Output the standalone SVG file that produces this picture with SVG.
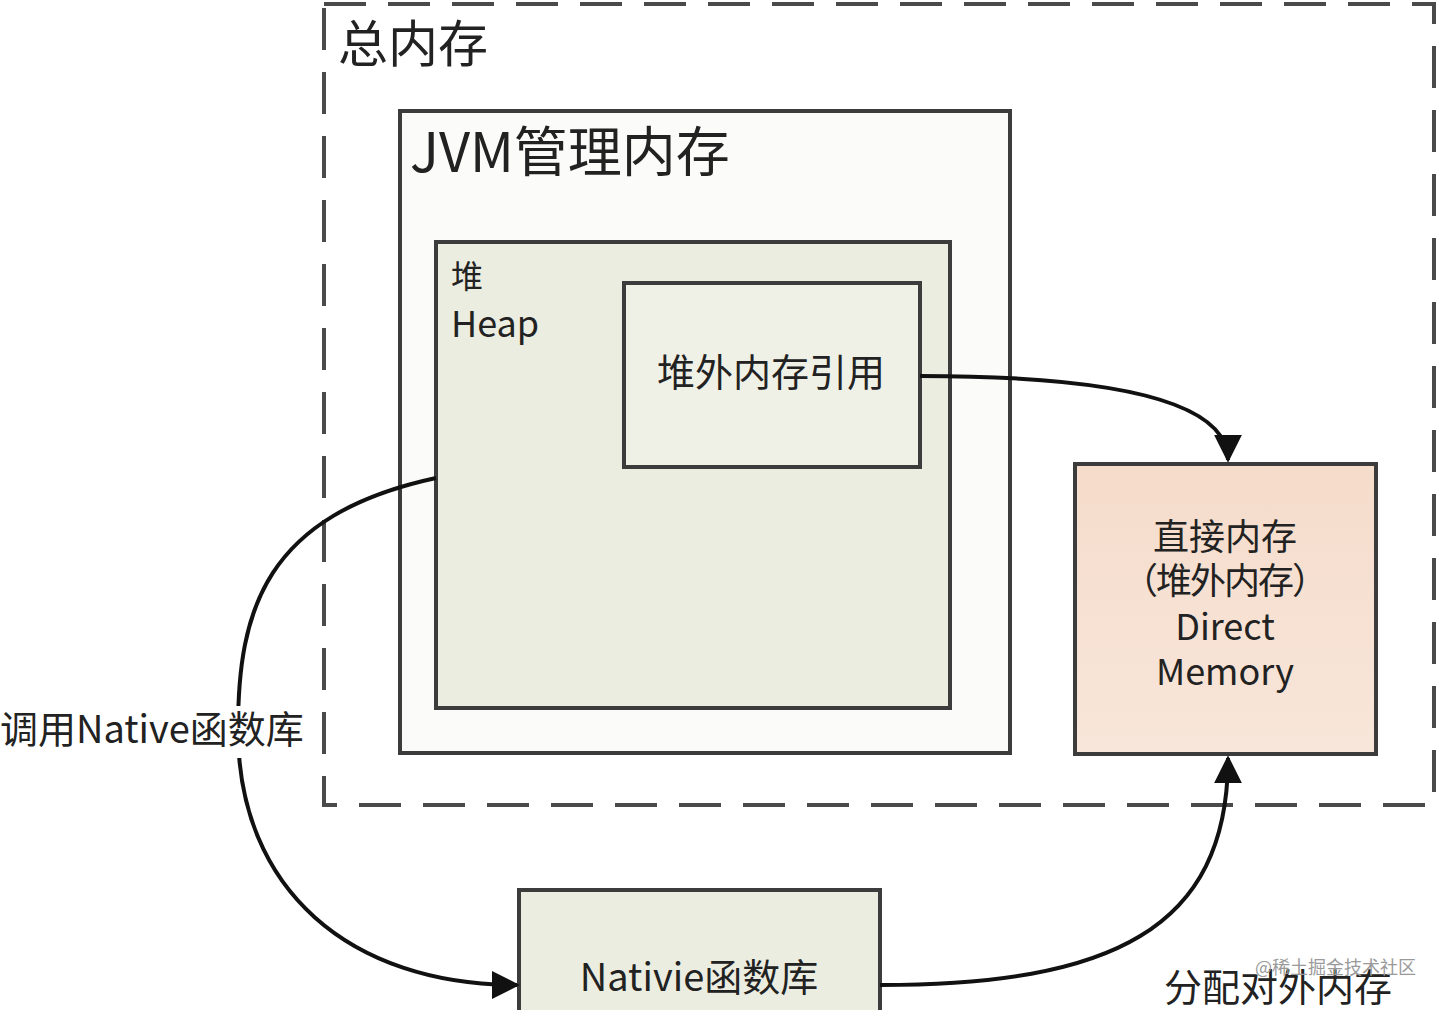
<svg xmlns="http://www.w3.org/2000/svg" width="1440" height="1010" viewBox="0 0 1440 1010">
<defs>
<style>
text{font-family:"Noto Sans CJK SC","Noto Sans",sans-serif;fill:#222}
.box{stroke:#3c3c3c;stroke-width:4}
.con{fill:none;stroke:#111;stroke-width:4}
.dm{font-size:36px;text-anchor:middle}
</style>
<linearGradient id="peach" x1="0" y1="0" x2="0" y2="1">
<stop offset="0" stop-color="#f5dccb"/><stop offset="1" stop-color="#f8e6da"/>
</linearGradient>
<marker id="arr" viewBox="0 0 10 10" refX="9" refY="5" markerWidth="7" markerHeight="7" markerUnits="strokeWidth" orient="auto">
<path d="M0,0 L10,5 L0,10 Z" fill="#111"/>
</marker>
</defs>
<rect width="1440" height="1010" fill="#ffffff"/>
<g id="total">
<rect x="324" y="4" width="1110" height="801" fill="none" stroke="#4a4a4a" stroke-width="4" stroke-dasharray="42,22"/>
<text x="338" y="62" font-size="50">总内存</text>
</g>
<g id="jvm">
<rect class="box" x="400" y="111" width="610" height="642" fill="#fbfbf9"/>
<text x="410" y="172" font-size="54">JVM管理内存</text>
</g>
<g id="heap">
<rect class="box" x="436" y="242" width="514" height="466" fill="#ecede1"/>
<text x="451" y="288" font-size="32">堆</text>
<text x="451" y="337" font-size="36">Heap</text>
</g>
<g id="ref">
<rect class="box" x="624" y="283" width="296" height="184" fill="#eff0e6"/>
<text x="771" y="386" font-size="38" text-anchor="middle">堆外内存引用</text>
</g>
<g id="direct">
<rect class="box" x="1075" y="464" width="301" height="290" fill="url(#peach)"/>
<text class="dm" x="1225" y="550">直接内存</text>
<text class="dm" x="1225" y="594" textLength="206" lengthAdjust="spacing">（堆外内存）</text>
<text class="dm" x="1225" y="640">Direct</text>
<text class="dm" x="1225" y="685">Memory</text>
</g>
<g id="native">
<rect class="box" x="519" y="890" width="361" height="130" fill="#ecede1"/>
<text x="699" y="991" font-size="38" text-anchor="middle">Nativie函数库</text>
</g>
<g id="connectors">
<path class="con" d="M920,376 C1110,376 1228,400 1228,460" marker-end="url(#arr)"/>
<path class="con" d="M436,478 C265,515 238,610 238,730 C238,890 350,985 517,985" marker-end="url(#arr)"/>
<path class="con" d="M880,985 C1110,985 1228,930 1228,758" marker-end="url(#arr)"/>
</g>
<g id="labels">
<rect x="0" y="706" width="310" height="52" fill="#ffffff"/>
<text x="0" y="743" font-size="38">调用Native函数库</text>
<text x="1164" y="1001" font-size="38">分配对外内存</text>
<text x="1255" y="974" font-size="18" style="fill:#9a9a9a">@稀土掘金技术社区</text>
</g>
</svg>
